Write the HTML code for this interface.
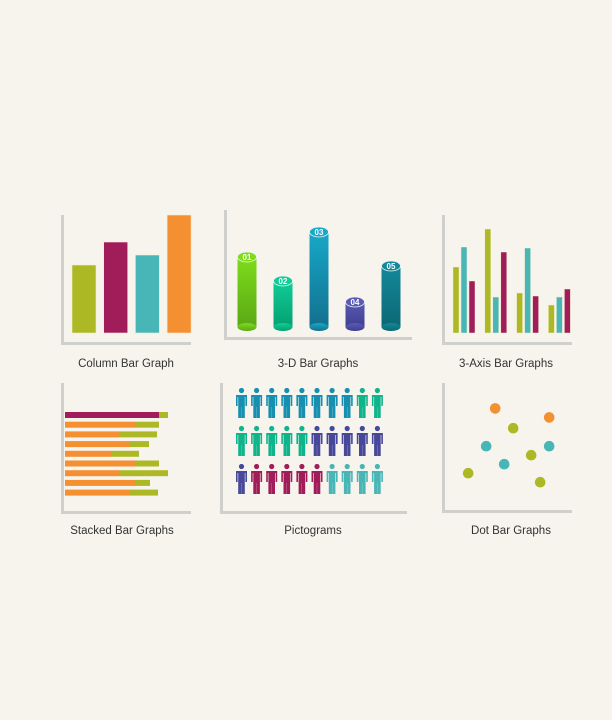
<!DOCTYPE html>
<html><head><meta charset="utf-8"><style>
html,body{margin:0;padding:0;background:#f6f4ec;}
svg{display:block;font-family:"Liberation Sans",sans-serif;}
</style></head><body>
<svg id="s" width="612" height="720" viewBox="0 0 612 720">
<defs>
<linearGradient id="g1" x1="0" y1="0" x2="0" y2="1"><stop offset="0" stop-color="#7fdc1a"/><stop offset="1" stop-color="#5aa815"/></linearGradient>
<linearGradient id="g2" x1="0" y1="0" x2="0" y2="1"><stop offset="0" stop-color="#10cc98"/><stop offset="1" stop-color="#05a070"/></linearGradient>
<linearGradient id="g3" x1="0" y1="0" x2="0" y2="1"><stop offset="0" stop-color="#18a8c8"/><stop offset="1" stop-color="#12708e"/></linearGradient>
<linearGradient id="g4" x1="0" y1="0" x2="0" y2="1"><stop offset="0" stop-color="#5a5ab4"/><stop offset="1" stop-color="#3e3e90"/></linearGradient>
<linearGradient id="g5" x1="0" y1="0" x2="0" y2="1"><stop offset="0" stop-color="#14889a"/><stop offset="1" stop-color="#0c6874"/></linearGradient>
</defs>
<g fill="none" stroke="#cfcfcc" stroke-width="3">
<path d="M62.5 215V343.5H191"/><path d="M225.5 210V338.5H412"/><path d="M443.5 215V343.5H572"/>
<path d="M62.5 383V512.5H191"/><path d="M221.5 383V512.5H407"/><path d="M443.5 383V511.5H572"/>
</g>
<g font-size="11.5" fill="#333" text-anchor="middle">
<text x="126" y="367">Column Bar Graph</text>
<text x="318" y="367">3-D Bar Graphs</text>
<text x="506" y="367">3-Axis Bar Graphs</text>
<text x="122" y="534">Stacked Bar Graphs</text>
<text x="313" y="534">Pictograms</text>
<text x="511" y="534">Dot Bar Graphs</text>
</g>
</svg>
<script>
// Column chart
const colValues=[68,91,78,118];
const colColors=["#adb924","#a01d5a","#48b6b6","#f48f32"];
// 3D
const cylLabels=["01","02","03","04","05"];
const cylValues=[70,46,95,25,61];
// 3-axis
const grpA=[66,104,40,28];
const grpB=[86,36,85,36];
const grpC=[52,81,37,44];
// Stacked
const stackA=[94,71,55,65,46,71,55,71,65];
const stackB=[9,23,37,19,28,23,48,14,28];
// Pictogram colors per row
const picRow1=["#168fb0","#168fb0","#168fb0","#168fb0","#168fb0","#168fb0","#168fb0","#168fb0","#10b48a","#10b48a"];
const picRow2=["#10b48a","#10b48a","#10b48a","#10b48a","#10b48a","#48489a","#48489a","#48489a","#48489a","#48489a"];
const picRow3=["#48489a","#a01d5a","#a01d5a","#a01d5a","#a01d5a","#a01d5a","#48b6b6","#48b6b6","#48b6b6","#48b6b6"];
// Dots
const dotX=[29,59,39,24,59,49,34,14,54];
const dotY=[57,52,46,36,36,31,26,21,16];
const dotC=["#f48f32","#f48f32","#adb924","#48b6b6","#48b6b6","#adb924","#48b6b6","#adb924","#adb924"];

const s=document.getElementById('s');const NS="http://www.w3.org/2000/svg";
function mk(t,a,p){const e=document.createElementNS(NS,t);for(const k in a)e.setAttribute(k,a[k]);(p||s).appendChild(e);return e;}

// column
const cy=v=>333-v;
colValues.forEach((v,i)=>{const r=mk('rect',{x:72+i*31.7,y:cy(v),width:24,height:v,fill:colColors[i],stroke:'#f3ecd0','stroke-width':0.6});

});

// 3D
const grads=["url(#g1)","url(#g2)","url(#g3)","url(#g4)","url(#g5)"];
const tops=["#7fdc1a","#10cc98","#18a8c8","#5a5ab4","#14889a"];
const zy=v=>327-v;
cylValues.forEach((v,i)=>{const cx=247+i*36,w=19,t=zy(v);
const g=mk('g',{});


mk('rect',{x:cx-w/2,y:t,width:w,height:327-t,fill:grads[i]},g);
mk('ellipse',{cx:cx,cy:327,rx:w/2,ry:4,fill:grads[i]},g);
mk('ellipse',{cx:cx,cy:t,rx:w/2,ry:5,fill:tops[i],stroke:'#e8f4f0','stroke-width':0.8},g);
const tx=mk('text',{x:cx,y:t+3,'font-size':8,'font-weight':'bold',fill:'#fff','text-anchor':'middle'},g);tx.textContent=cylLabels[i];});

// 3-axis
const ay=v=>333-v;
[[grpA,"#adb924"],[grpB,"#48b6b6"],[grpC,"#a01d5a"]].forEach(([arr,c],k)=>arr.forEach((v,i)=>{
const r=mk('rect',{x:453+i*31.8+k*8,y:ay(v),width:6,height:v,fill:c,stroke:'#f3ecd0','stroke-width':0.5});

}));

// stacked
const sx=v=>65+v;
stackA.forEach((a,i)=>{const y=412+i*9.7;
const r1=mk('rect',{x:65,y:y,width:a,height:6,fill:i==0?'#a01d5a':'#f48f32'});


const r2=mk('rect',{x:sx(a),y:y,width:stackB[i],height:6,fill:'#adb924'});

});

// pictograms
function person(x,y,c){const g=mk('g',{fill:c});


mk('circle',{cx:x,cy:y+2.5,r:2.6},g);
mk('path',{d:`M${x-5.5} ${y+7}h11v11h-1.6v-9h-0.6v21h-3.2v-11h-0.2v11h-3.2v-21h-0.6v9h-1.6z`},g);}
[picRow1,picRow2,picRow3].forEach((row,r)=>row.forEach((c,i)=>person(241.5+i*15.1,388+r*38,c)));

// dots
const dx=v=>443+v*1.8, dy=v=>511-v*1.8;
dotX.forEach((v,i)=>{const c=mk('circle',{cx:dx(v),cy:dy(dotY[i]),r:5.3,fill:dotC[i]});

});
</script>
</body></html>
